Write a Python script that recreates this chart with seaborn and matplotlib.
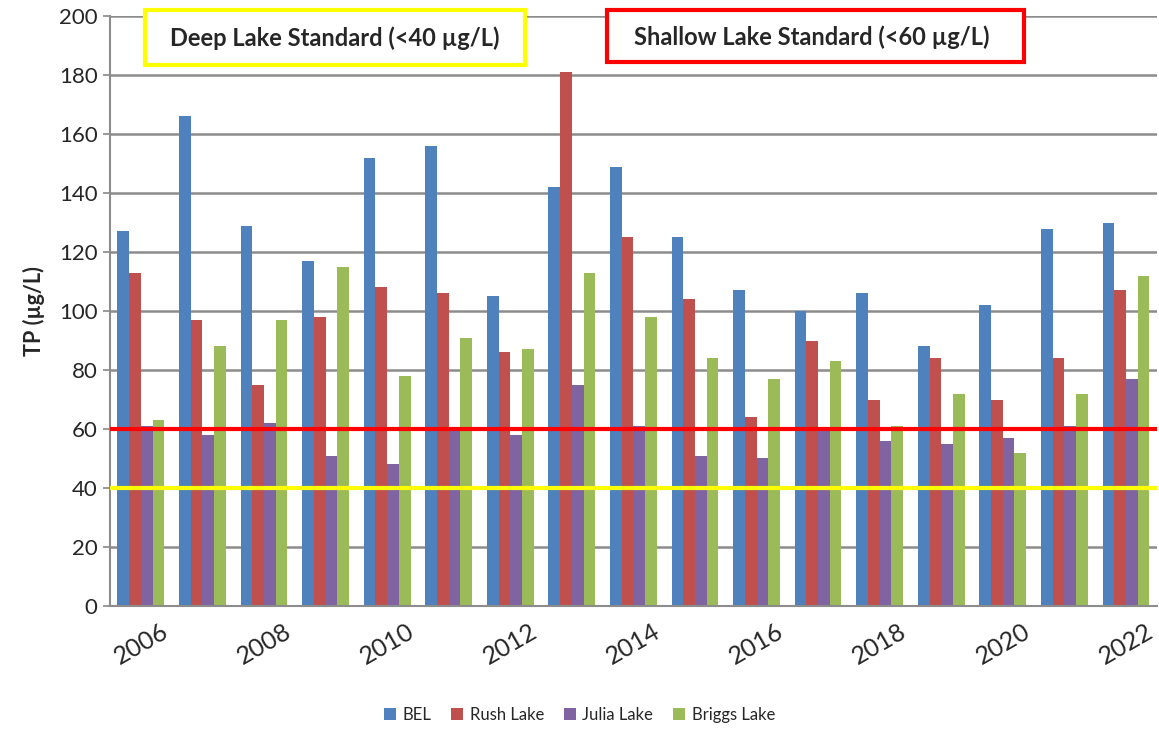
import pandas as pd
import numpy as np
import matplotlib.pyplot as plt
import seaborn as sns
from matplotlib.patches import Rectangle

# values (TP, ug/L)
years = list(range(2006, 2023))
bel = [127, 166, 129, 117, 152, 156, 105, 142, 149, 125, 107, 100, 106, 88, 102, 128, 130]
rush = [113, 97, 75, 98, 108, 106, 86, 181, 125, 104, 64, 90, 70, 84, 70, 84, 107]
julia = [61, 58, 62, 51, 48, 60, 58, 75, 61, 51, 50, 60, 56, 55, 57, 61, 77]
briggs = [63, 88, 97, 115, 78, 91, 87, 113, 98, 84, 77, 83, 61, 72, 52, 72, 112]
lakes = ["BEL", "Rush Lake", "Julia Lake", "Briggs Lake"]
shallow_std = 60
deep_std = 40

colors = ["#4F81BD", "#C0504D", "#8064A2", "#9BBB59"]

df = pd.DataFrame({"year": years, "BEL": bel, "Rush Lake": rush,
                   "Julia Lake": julia, "Briggs Lake": briggs})
long = df.melt(id_vars="year", value_vars=lakes, var_name="lake", value_name="tp")

sns.set_theme(style="white")
plt.rcParams["font.family"] = ["Lato", "DejaVu Sans"]

fig = plt.figure(figsize=(11.59, 7.38), dpi=100)
ax = fig.add_axes([0.095, 0.179, 0.903, 0.799])

sns.barplot(data=long, x="year", y="tp", hue="lake", hue_order=lakes,
            palette=colors, width=0.76, linewidth=0, saturation=1, ax=ax)

ax.set_ylim(0, 200)
ax.set_xlim(-0.5, 16.5)
ax.set_yticks(np.arange(0, 201, 20))
ax.yaxis.grid(True, color="#8c8c8c", linewidth=1.8)
ax.set_axisbelow(True)

ax.axhline(shallow_std, color="#ff0000", linewidth=3, zorder=5)
ax.axhline(deep_std, color="#ffff00", linewidth=3, zorder=5)

labels = [str(y) if (y - 2006) % 2 == 0 else "" for y in years]
ax.set_xticks(range(len(years)))
ax.set_xticklabels(labels, rotation=30, ha="center", fontsize=18)
ax.tick_params(axis="x", length=0, pad=10)
ax.tick_params(axis="y", labelsize=16, length=5, color="#8c8c8c", left=True, pad=4)

for side in ["top", "right"]:
    ax.spines[side].set_visible(False)
for side in ["left", "bottom"]:
    ax.spines[side].set_color("#8c8c8c")
    ax.spines[side].set_linewidth(1.5)

ax.set_xlabel("")
ax.set_ylabel("TP (µg/L)", fontsize=15.5, fontweight="bold", labelpad=10)

# standard boxes
ax.add_patch(Rectangle((0.033, 0.917), 0.363, 0.093, transform=ax.transAxes,
                       facecolor="white", edgecolor="#ffff00", linewidth=3,
                       clip_on=False, zorder=6))
ax.text(0.215, 0.963, "Deep Lake Standard (<40 µg/L)", transform=ax.transAxes,
        ha="center", va="center", fontsize=17, fontweight="bold", zorder=7)
ax.add_patch(Rectangle((0.475, 0.922), 0.398, 0.088, transform=ax.transAxes,
                       facecolor="white", edgecolor="#ff0000", linewidth=3,
                       clip_on=False, zorder=6))
ax.text(0.670, 0.965, "Shallow Lake Standard (<60 µg/L)", transform=ax.transAxes,
        ha="center", va="center", fontsize=17, fontweight="bold", zorder=7)

handles, lab = ax.get_legend_handles_labels()
ax.legend_.remove()
fig.legend(handles, lab, loc="lower center", bbox_to_anchor=(0.5, 0.0), ncol=4,
           frameon=False, fontsize=12, handlelength=0.7, handleheight=0.7,
           handletextpad=0.4, columnspacing=1.2)

fig.savefig("out.png", dpi=100)
